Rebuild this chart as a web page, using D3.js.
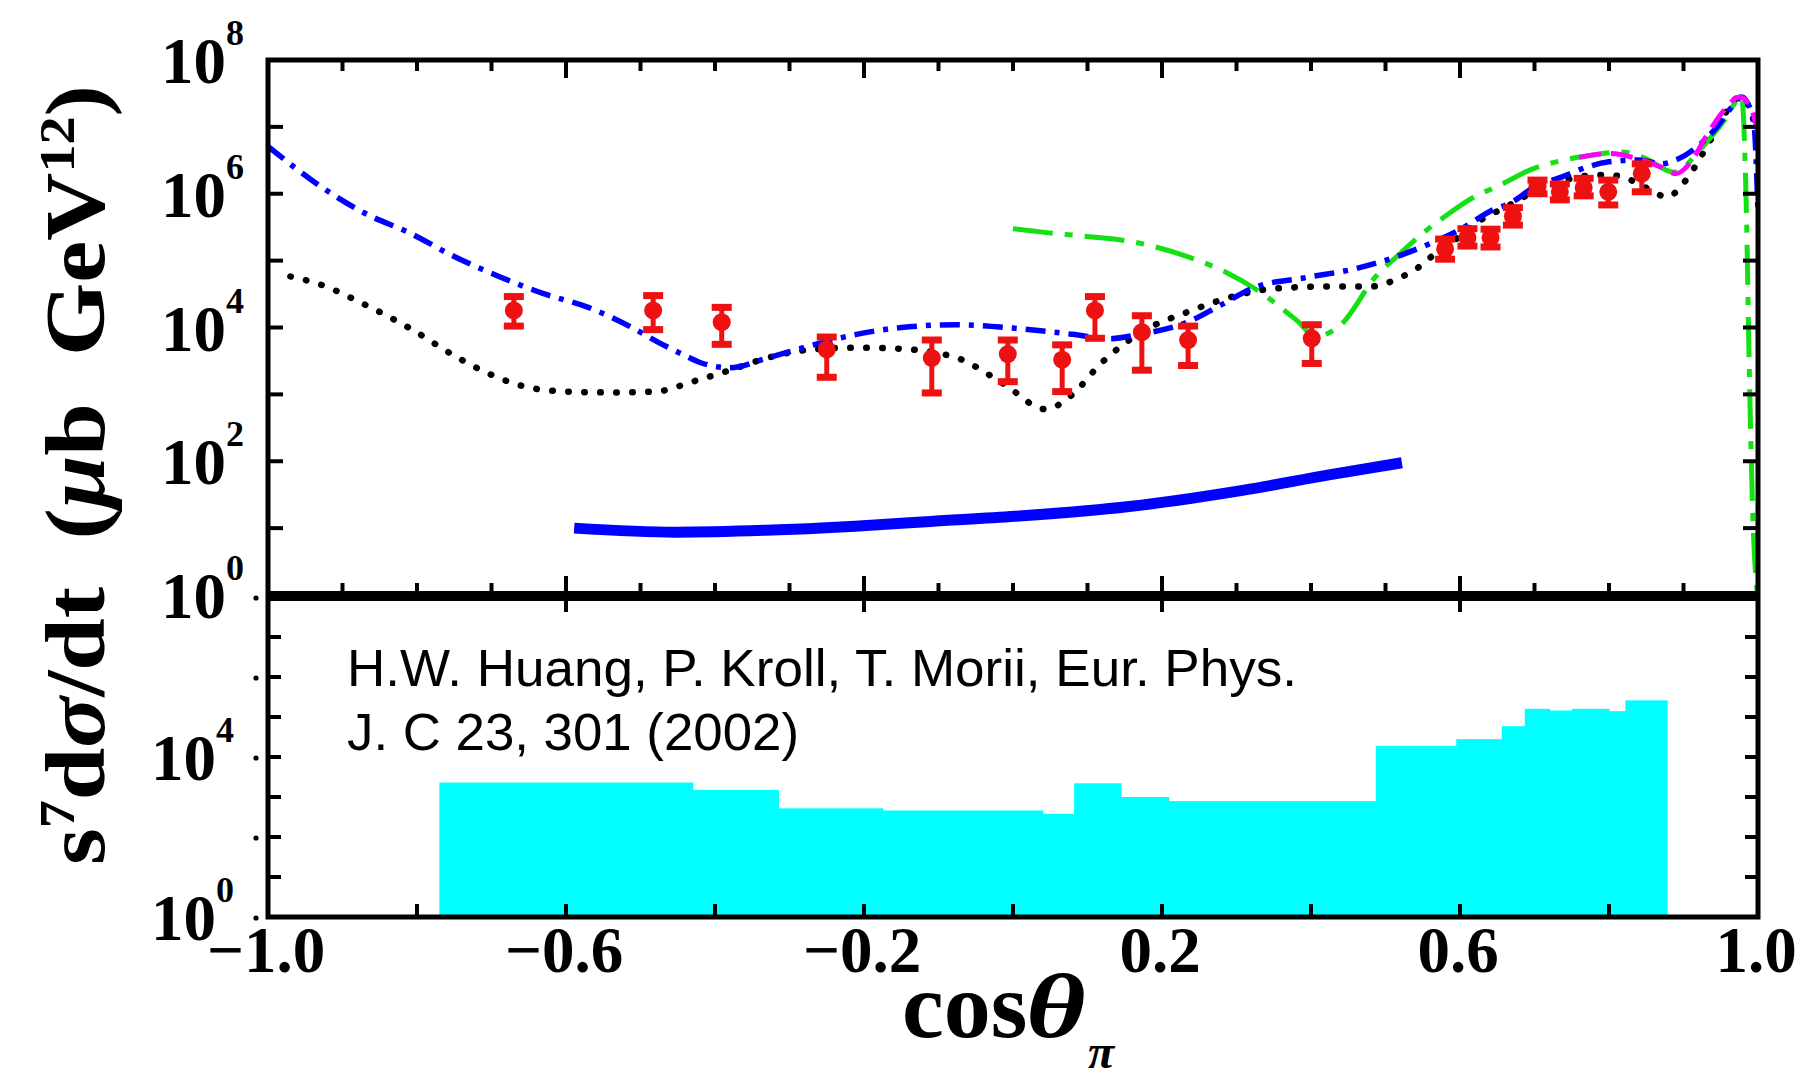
<!DOCTYPE html>
<html><head><meta charset="utf-8">
<script src="https://cdn.jsdelivr.net/npm/d3@7"></script>
<style>html,body{margin:0;padding:0;background:#fff;} svg{display:block;background:#fff}</style>
</head><body><svg id="chart" width="1799" height="1083"></svg>
<script>
// ---------------- data ----------------
const xTickValues = [-1.0, -0.6, -0.2, 0.2, 0.6, 1.0];
const xTickLabels = ["\u22121.0", "\u22120.6", "\u22120.2", "0.2", "0.6", "1.0"];
const upperYTickExps = [8, 6, 4, 2, 0];
const lowerYTickExps = [4, 0];

// blue dash-dot model curve [cos, value]
const blueDashDot = [[-1.0,5.1e6],[-0.93,1.3e6],[-0.87,5.1e5],[-0.81,2.6e5],[-0.75,1.15e5],[-0.69,5.8e4],
 [-0.63,3.2e4],[-0.57,2.0e4],[-0.51,9.8e3],[-0.476,6.0e3],[-0.44,3.8e3],[-0.42,3.0e3],[-0.38,2.5e3],[-0.33,3.5e3],
 [-0.27,5.4e3],[-0.21,7.9e3],[-0.15,1.0e4],[-0.075,1.1e4],[0.0,9.8e3],[0.08,7.9e3],[0.13,6.8e3],
 [0.17,7.9e3],[0.234,1.2e4],[0.28,2.2e4],[0.325,4.0e4],[0.39,5.5e4],[0.46,7.6e4],[0.52,1.2e5],
 [0.56,1.8e5],[0.60,2.9e5],[0.645,5.8e5],[0.667,7.2e5],[0.70,1.26e6],[0.738,1.8e6],[0.77,2.5e6],
 [0.80,3.0e6],[0.84,3.2e6],[0.87,2.8e6],[0.89,3.2e6],[0.918,5.0e6],[0.945,1.0e7],[0.965,2.0e7],
 [0.978,2.8e7],[0.99,1.8e7],[0.995,1.0e7],[1.0,5.0e5]];

// black dotted model curve
const blackDotted = [[-0.97,5.8e4],[-0.93,4.4e4],[-0.87,2.2e4],[-0.81,9.8e3],[-0.75,3.8e3],[-0.71,2.2e3],
 [-0.66,1.35e3],[-0.60,1.1e3],[-0.54,1.07e3],[-0.48,1.1e3],[-0.43,1.55e3],[-0.38,2.3e3],[-0.33,3.5e3],
 [-0.27,4.7e3],[-0.21,5.0e3],[-0.15,4.8e3],[-0.075,3.5e3],[-0.013,1.45e3],[0.044,6.0e2],[0.079,9.8e2],
 [0.118,2.9e3],[0.172,8.5e3],[0.234,1.7e4],[0.295,2.9e4],[0.349,3.8e4],[0.426,4.1e4],[0.479,4.1e4],
 [0.52,5.6e4],[0.544,7.9e4],[0.564,1.2e5],[0.584,1.7e5],[0.624,3.8e5],[0.667,6.8e5],[0.69,9.5e5],
 [0.711,1.23e6],[0.734,1.5e6],[0.761,1.8e6],[0.788,1.9e6],[0.811,1.86e6],[0.835,1.5e6],[0.855,1.15e6],
 [0.878,8.9e5],[0.898,1.35e6],[0.913,2.3e6],[0.941,7.8e6],[0.976,2.8e7],[0.995,1.15e7],[1.0,6.3e6]];

// green dash-dot model curve
const greenDashDot = [[0.0,3.0e5],[0.048,2.6e5],[0.10,2.3e5],[0.156,1.95e5],[0.234,1.15e5],[0.287,6.6e4],
 [0.325,3.8e4],[0.38,1.3e4],[0.407,7.4e3],[0.44,1.1e4],[0.487,5.8e4],[0.518,1.23e5],[0.556,2.9e5],
 [0.58,4.6e5],[0.617,8.7e5],[0.654,1.35e6],[0.695,2.3e6],[0.74,3.2e6],[0.772,3.7e6],[0.817,4.2e6],
 [0.848,3.4e6],[0.887,2.1e6],[0.926,5.1e6],[0.955,1.26e7],[0.978,2.8e7],[0.984,8.7e5],[0.989,9.8e2],
 [0.993,16],[0.999,1.07]];

// magenta dashed model curve
const magentaDash = [[0.76,3.5e6],[0.80,4.0e6],[0.84,3.3e6],[0.87,2.5e6],[0.89,2.0e6],[0.91,3.0e6],
 [0.93,7.1e6],[0.955,1.8e7],[0.975,2.8e7],[0.99,2.0e7],[1.0,7.9e6]];

// thick blue solid curve
const blueSolid = [[-0.589,10],[-0.452,8.7],[-0.332,9.3],[-0.212,10.7],[-0.111,12.6],[0.003,15],
 [0.156,21],[0.31,37],[0.426,63],[0.522,95]];

// data points: cos, value, low, high
const dataCos  = [-0.670,-0.483,-0.391,-0.250,-0.109,-0.007,0.066,0.110,0.173,0.235,0.401,
                  0.580,0.610,0.641,0.671,0.704,0.734,0.766,0.799,0.844];
const dataVal  = [1.8e4,1.8e4,1.2e4,4.7e3,3.5e3,4.0e3,3.3e3,1.8e4,8.5e3,6.5e3,6.9e3,
                  1.5e5,2.2e5,2.2e5,4.6e5,1.3e6,1.07e6,1.23e6,1.07e6,2.0e6];
const dataLow  = [1.05e4,9.3e3,5.6e3,1.8e3,1.05e3,1.55e3,1.1e3,6.9e3,2.3e3,2.7e3,2.9e3,
                  1.05e5,1.65e5,1.6e5,3.4e5,1.0e6,8.1e5,9.3e5,6.8e5,1.07e6];
const dataHigh = [2.9e4,3.0e4,2.0e4,7.2e3,6.5e3,6.5e3,5.5e3,2.9e4,1.5e4,1.05e4,1.1e4,
                  2.1e5,3.0e5,2.95e5,6.2e5,1.6e6,1.4e6,1.7e6,1.6e6,2.8e6];

// lower-panel histogram
const histEdges  = [-0.77,-0.43,-0.315,-0.175,0.04,0.082,0.145,0.209,0.487,0.595,0.656,0.687,0.72,0.75,0.80,0.822,0.878];
const histValues = [2.3e3,1.5e3,5.2e2,4.6e2,3.8e2,2.2e3,1.0e3,7.9e2,1.9e4,2.8e4,5.9e4,1.6e5,1.45e5,1.6e5,1.4e5,2.6e5];

// ---------------- layout ----------------
const L = 268, R = 1758, T = 60, MID = 596, B = 917;
const svg = d3.select("#chart");
const x = d3.scaleLinear().domain([-1, 1]).range([L, R]);
const yU = d3.scaleLog().domain([1, 1e8]).range([595, T]);
const yL = d3.scaleLog().domain([1, 1e8]).range([B, 597]);
const serif = "'Liberation Serif','Times New Roman',serif";

svg.append("rect").attr("width",1799).attr("height",1083).attr("fill","#fff");

const defs = svg.append("defs");
defs.append("clipPath").attr("id","clipU").append("rect")
  .attr("x",L).attr("y",T).attr("width",R-L).attr("height",595-T);

// histogram
const hist = svg.append("g");
histValues.forEach((v,i)=>{
  hist.append("rect")
    .attr("x", x(histEdges[i]))
    .attr("width", x(histEdges[i+1]) - x(histEdges[i]) + 0.6)
    .attr("y", yL(v))
    .attr("height", yL(1) - yL(v))
    .attr("fill", "#00ffff");
});

// curves
const lineU = d3.line().x(d=>x(d[0])).y(d=>yU(d[1])).curve(d3.curveMonotoneX);
const curves = svg.append("g").attr("clip-path","url(#clipU)");
curves.append("path").datum(blackDotted).attr("d",lineU)
  .attr("fill","none").attr("stroke","#000").attr("stroke-width",6.5)
  .attr("stroke-linecap","round").attr("stroke-dasharray","0.5 15.5");
curves.append("path").datum(greenDashDot).attr("d",lineU)
  .attr("fill","none").attr("stroke","#14e014").attr("stroke-width",5)
  .attr("stroke-dasharray","40 12 8 12");
curves.append("path").datum(blueDashDot).attr("d",lineU)
  .attr("fill","none").attr("stroke","#0000ff").attr("stroke-width",5.5)
  .attr("stroke-dasharray","20 9 5 9");
curves.append("path").datum(magentaDash).attr("d",lineU)
  .attr("fill","none").attr("stroke","#ff00ff").attr("stroke-width",5)
  .attr("stroke-dasharray","22 10");
curves.append("path").datum(blueSolid).attr("d",lineU)
  .attr("fill","none").attr("stroke","#0000ff").attr("stroke-width",11);

// data points
const pts = svg.append("g").attr("fill","#ee1111").attr("stroke","#ee1111");
dataCos.forEach((c,i)=>{
  const cx = x(c);
  pts.append("line").attr("x1",cx).attr("x2",cx).attr("y1",yU(dataLow[i])).attr("y2",yU(dataHigh[i])).attr("stroke-width",5);
  [dataLow[i], dataHigh[i]].forEach(v=>{
    pts.append("line").attr("x1",cx-10).attr("x2",cx+10).attr("y1",yU(v)).attr("y2",yU(v)).attr("stroke-width",7);
  });
  pts.append("circle").attr("cx",cx).attr("cy",yU(dataVal[i])).attr("r",9).attr("stroke","none");
});

// frame
const frame = svg.append("g").attr("stroke","#000").attr("fill","none");
frame.append("rect").attr("x",L).attr("y",T).attr("width",R-L).attr("height",B-T).attr("stroke-width",5);
frame.append("line").attr("x1",L).attr("x2",R).attr("y1",MID).attr("y2",MID).attr("stroke-width",10);

// x ticks
const minorX = d3.range(-9, 10).map(k=>k/10);
const isMajor = c => xTickValues.some(v=>Math.abs(v-c)<1e-6);
minorX.forEach(c=>{
  const px = x(c), len = isMajor(c) ? 18 : 11;
  frame.append("line").attr("x1",px).attr("x2",px).attr("y1",T).attr("y2",T+len).attr("stroke-width",4);
  frame.append("line").attr("x1",px).attr("x2",px).attr("y1",MID).attr("y2",MID-len-2).attr("stroke-width",4);
  if (isMajor(c)) frame.append("line").attr("x1",px).attr("x2",px).attr("y1",MID).attr("y2",MID+16).attr("stroke-width",4);
});
d3.range(-8, 10, 2).map(k=>k/10).forEach(c=>{
  const px = x(c);
  frame.append("line").attr("x1",px).attr("x2",px).attr("y1",B).attr("y2",B-13).attr("stroke-width",4);
});
// y ticks
d3.range(1, 8).forEach(e=>{
  const py = yU(Math.pow(10,e));
  frame.append("line").attr("x1",L).attr("x2",L+15).attr("y1",py).attr("y2",py).attr("stroke-width",4);
  frame.append("line").attr("x1",R).attr("x2",R-15).attr("y1",py).attr("y2",py).attr("stroke-width",4);
  const pl = yL(Math.pow(10,e));
  frame.append("line").attr("x1",L).attr("x2",L+13).attr("y1",pl).attr("y2",pl).attr("stroke-width",4);
  frame.append("line").attr("x1",R).attr("x2",R-13).attr("y1",pl).attr("y2",pl).attr("stroke-width",4);
});
// small dots left of lower-panel major ticks
[8,6,4,2,0].forEach(e=>{
  svg.append("circle").attr("cx",256).attr("cy",yL(Math.pow(10,e))+1).attr("r",2.6).attr("fill","#000");
});

// y tick labels
function powLabel(xr, y, e){
  const t = svg.append("text").attr("x",xr).attr("y",y+23).attr("text-anchor","end")
    .attr("font-family",serif).attr("font-weight","bold").attr("font-size",65).attr("fill","#000");
  t.append("tspan").text("10");
  t.append("tspan").attr("dy",-38).attr("font-size",36).text(String(e));
}
upperYTickExps.forEach(e=>powLabel(244, yU(Math.pow(10,e)), e));
lowerYTickExps.forEach(e=>powLabel(234, yL(Math.pow(10,e)), e));

// x tick labels
xTickValues.forEach((v,i)=>{
  svg.append("text").attr("x",x(v)-2).attr("y",972).attr("text-anchor","middle")
    .attr("font-family",serif).attr("font-weight","bold").attr("font-size",65).attr("fill","#000")
    .text(xTickLabels[i]);
});

// x axis title
svg.append("text").attr("x",902).attr("y",1037)
  .attr("font-family",serif).attr("font-weight","bold").attr("font-size",94).attr("fill","#000")
  .text("cos");
svg.append("text").attr("transform","translate(1026,1037) scale(1.25,1)")
  .attr("font-family",serif).attr("font-weight","bold").attr("font-style","italic")
  .attr("font-size",92).attr("fill","#000").text("\u03b8");
svg.append("text").attr("x",1088).attr("y",1068)
  .attr("font-family",serif).attr("font-weight","bold").attr("font-style","italic")
  .attr("font-size",48).attr("fill","#000").text("\u03c0");

// y axis title
const yt = svg.append("text").attr("transform","translate(104,475) rotate(-90)")
  .attr("text-anchor","middle").attr("font-family",serif).attr("font-weight","bold")
  .attr("font-size",84).attr("fill","#000")
  .attr("textLength",780).attr("lengthAdjust","spacingAndGlyphs");
yt.append("tspan").text("s");
yt.append("tspan").attr("font-size",50).attr("dy",-30).text("7");
yt.append("tspan").attr("dy",30).text("d");
yt.append("tspan").attr("font-style","italic").text("\u03c3");
yt.append("tspan").text("/dt\u00a0\u00a0(");
yt.append("tspan").attr("font-style","italic").text("\u03bc");
yt.append("tspan").text("b\u00a0\u00a0GeV");
yt.append("tspan").attr("font-size",50).attr("dy",-30).text("12");
yt.append("tspan").attr("dy",30).text(")");

// annotation
const sans = "'Liberation Sans Narrow','Liberation Sans',Arial,sans-serif";
svg.append("text").attr("x",347).attr("y",686).attr("font-family",sans).attr("font-size",52)
  .attr("textLength",950).attr("lengthAdjust","spacingAndGlyphs").attr("fill","#000")
  .text("H.W. Huang, P. Kroll, T. Morii, Eur. Phys.");
svg.append("text").attr("x",347).attr("y",750).attr("font-family",sans).attr("font-size",52)
  .attr("textLength",452).attr("lengthAdjust","spacingAndGlyphs").attr("fill","#000")
  .text("J. C 23, 301 (2002)");
</script></body></html>
